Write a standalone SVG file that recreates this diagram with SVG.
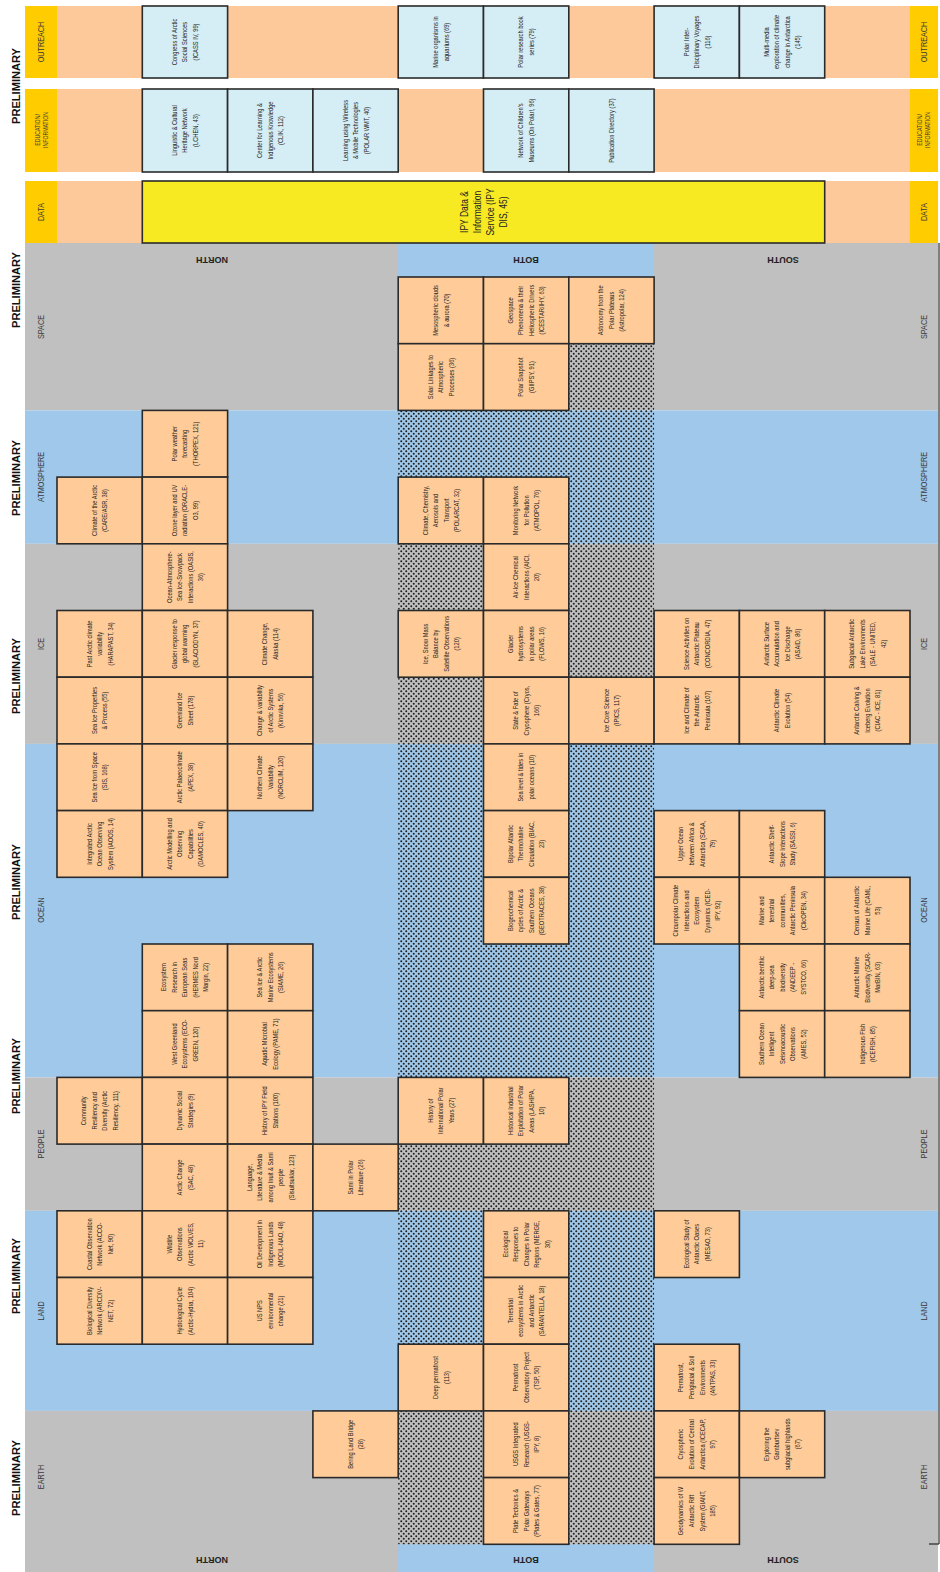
<svg xmlns="http://www.w3.org/2000/svg" width="940" height="1572" viewBox="0 0 940 1572">
<defs>
<style>
.g{fill:#c0c0c0}
.b{fill:#9fc8ea}
.pe{fill:#fdc99b}
.go{fill:#ffcc00}
.box rect{fill:#ffcc99;stroke:#2a2a2a;stroke-width:1.6}
.ibox rect{fill:#d5edf5;stroke:#2a2a2a;stroke-width:1.6}
.box text,.ibox text{font-family:"Liberation Sans",Arial,sans-serif;font-size:7px;fill:#222;text-anchor:middle}
.lbl{font-family:"Liberation Sans",Arial,sans-serif;font-size:8.5px;fill:#3a3a3a;text-anchor:middle}
.pre{font-family:"Liberation Sans",Arial,sans-serif;font-weight:bold;font-size:11px;fill:#111;text-anchor:middle}
.reg{font-family:"Liberation Sans",Arial,sans-serif;font-weight:bold;font-size:9px;fill:#222;text-anchor:middle}
</style>
<pattern id="hatch" width="5" height="5" patternUnits="userSpaceOnUse"><circle cx="1.25" cy="1.25" r="1" fill="#1e1e1e"/><circle cx="3.75" cy="3.75" r="1" fill="#1e1e1e"/></pattern>
</defs>
<rect width="940" height="1572" fill="#ffffff"/>
<g id="background">
<rect class="go" x="25" y="6" width="32" height="72"/><rect class="pe" x="57" y="6" width="853" height="72"/><rect class="go" x="910" y="6" width="28" height="72"/>
<rect class="go" x="25" y="89" width="32" height="83"/><rect class="pe" x="57" y="89" width="853" height="83"/><rect class="go" x="910" y="89" width="28" height="83"/>
<rect class="go" x="25" y="181" width="32" height="62"/><rect class="pe" x="57" y="181" width="853" height="62"/><rect class="go" x="910" y="181" width="28" height="62"/>
<rect class="g" x="25" y="243" width="913" height="167.4"/>
<rect class="b" x="25" y="410.4" width="913" height="133.4"/>
<rect class="g" x="25" y="543.8" width="913" height="200.1"/>
<rect class="b" x="25" y="743.9" width="913" height="333.5"/>
<rect class="g" x="25" y="1077.4" width="913" height="133.4"/>
<rect class="b" x="25" y="1210.8" width="913" height="200.1"/>
<rect class="g" x="25" y="1410.9" width="913" height="161.1"/>
<rect class="b" x="398.2" y="243" width="255.9" height="34"/>
<rect class="b" x="398.2" y="1544.3" width="255.9" height="27.7"/>
<rect fill="url(#hatch)" x="398.2" y="277" width="255.9" height="1267.3"/>
<line x1="939" y1="243" x2="939" y2="1544" stroke="#555" stroke-width="1.5"/>
<line x1="929" y1="1544" x2="939" y2="1544" stroke="#222" stroke-width="1.2"/>
</g>
<g id="labels">
<g class="pre">
<text transform="translate(20,86) rotate(-90)" textLength="76" lengthAdjust="spacingAndGlyphs">PRELIMINARY</text>
<text transform="translate(20,290) rotate(-90)" textLength="76" lengthAdjust="spacingAndGlyphs">PRELIMINARY</text>
<text transform="translate(20,478) rotate(-90)" textLength="76" lengthAdjust="spacingAndGlyphs">PRELIMINARY</text>
<text transform="translate(20,676) rotate(-90)" textLength="76" lengthAdjust="spacingAndGlyphs">PRELIMINARY</text>
<text transform="translate(20,882) rotate(-90)" textLength="76" lengthAdjust="spacingAndGlyphs">PRELIMINARY</text>
<text transform="translate(20,1076) rotate(-90)" textLength="76" lengthAdjust="spacingAndGlyphs">PRELIMINARY</text>
<text transform="translate(20,1276) rotate(-90)" textLength="76" lengthAdjust="spacingAndGlyphs">PRELIMINARY</text>
<text transform="translate(20,1478) rotate(-90)" textLength="76" lengthAdjust="spacingAndGlyphs">PRELIMINARY</text>
</g>
<g class="lbl">
<text transform="translate(44,42) rotate(-90) scale(0.85,1)">OUTREACH</text>
<text transform="translate(41,130) rotate(-90) scale(0.8,1)" font-size="6.5"><tspan x="0" y="-1">EDUCATION/</tspan><tspan x="0" y="7">INFORMATION</tspan></text>
<text transform="translate(44,212) rotate(-90) scale(0.85,1)">DATA</text>
<text transform="translate(44,327) rotate(-90) scale(0.85,1)">SPACE</text>
<text transform="translate(44,477) rotate(-90) scale(0.85,1)">ATMOSPHERE</text>
<text transform="translate(44,644) rotate(-90) scale(0.85,1)">ICE</text>
<text transform="translate(44,910) rotate(-90) scale(0.85,1)">OCEAN</text>
<text transform="translate(44,1144) rotate(-90) scale(0.85,1)">PEOPLE</text>
<text transform="translate(44,1311) rotate(-90) scale(0.85,1)">LAND</text>
<text transform="translate(44,1477) rotate(-90) scale(0.85,1)">EARTH</text>
<text transform="translate(927,42) rotate(-90) scale(0.85,1)">OUTREACH</text>
<text transform="translate(923,130) rotate(-90) scale(0.8,1)" font-size="6.5"><tspan x="0" y="-1">EDUCATION/</tspan><tspan x="0" y="7">INFORMATION</tspan></text>
<text transform="translate(927,212) rotate(-90) scale(0.85,1)">DATA</text>
<text transform="translate(927,327) rotate(-90) scale(0.85,1)">SPACE</text>
<text transform="translate(927,477) rotate(-90) scale(0.85,1)">ATMOSPHERE</text>
<text transform="translate(927,644) rotate(-90) scale(0.85,1)">ICE</text>
<text transform="translate(927,910) rotate(-90) scale(0.85,1)">OCEAN</text>
<text transform="translate(927,1144) rotate(-90) scale(0.85,1)">PEOPLE</text>
<text transform="translate(927,1311) rotate(-90) scale(0.85,1)">LAND</text>
<text transform="translate(927,1477) rotate(-90) scale(0.85,1)">EARTH</text>
</g>
<g class="reg">
<text transform="translate(212,257) rotate(180)">NORTH</text>
<text transform="translate(526,257) rotate(180)">BOTH</text>
<text transform="translate(783,257) rotate(180)">SOUTH</text>
<text transform="translate(212,1557) rotate(180)">NORTH</text>
<text transform="translate(526,1557) rotate(180)">BOTH</text>
<text transform="translate(783,1557) rotate(180)">SOUTH</text>
</g>
</g>
<g id="outreach">
<g id="icass" class="ibox"><rect x="142.3" y="6" width="85.3" height="72"/><text transform="translate(184.95,42) rotate(-90) scale(0.82,1)"><tspan x="0" y="-8">Congress of Arctic</tspan><tspan x="0" y="2.5">Social Sciences</tspan><tspan x="0" y="13">(ICASS IV, 99)</tspan></text></g>
<g id="aquaria" class="ibox"><rect x="398.2" y="6" width="85.3" height="72"/><text transform="translate(440.85,42) rotate(-90) scale(0.82,1)"><tspan x="0" y="-2.8">Marine organisms in</tspan><tspan x="0" y="7.8">aquariums (69)</tspan></text></g>
<g id="books" class="ibox"><rect x="483.5" y="6" width="85.3" height="72"/><text transform="translate(526.15,42) rotate(-90) scale(0.82,1)"><tspan x="0" y="-2.8">Polar research book</tspan><tspan x="0" y="7.8">series (79)</tspan></text></g>
<g id="voyages" class="ibox"><rect x="654.1" y="6" width="85.3" height="72"/><text transform="translate(696.75,42) rotate(-90) scale(0.82,1)"><tspan x="0" y="-8">Polar Inter-</tspan><tspan x="0" y="2.5">Disciplinary Voyages</tspan><tspan x="0" y="13">(116)</tspan></text></g>
<g id="multimedia" class="ibox"><rect x="739.4" y="6" width="85.3" height="72"/><text transform="translate(782.05,42) rotate(-90) scale(0.82,1)"><tspan x="0" y="-13.3">Multi-media</tspan><tspan x="0" y="-2.8">exploration of climate</tspan><tspan x="0" y="7.8">change in Antarctica</tspan><tspan x="0" y="18.3">(145)</tspan></text></g>
</g>
<g id="education">
<g id="lchen" class="ibox"><rect x="142.3" y="89" width="85.3" height="83"/><text transform="translate(184.95,130.5) rotate(-90) scale(0.82,1)"><tspan x="0" y="-8">Linguistic &amp; Cultural</tspan><tspan x="0" y="2.5">Heritage Network</tspan><tspan x="0" y="13">(LCHEN, 43)</tspan></text></g>
<g id="clik" class="ibox"><rect x="227.6" y="89" width="85.3" height="83"/><text transform="translate(270.25,130.5) rotate(-90) scale(0.82,1)"><tspan x="0" y="-8">Center for Learning &amp;</tspan><tspan x="0" y="2.5">Indigenous Knowledge</tspan><tspan x="0" y="13">(CLIK, 112)</tspan></text></g>
<g id="polarwmt" class="ibox"><rect x="312.9" y="89" width="85.3" height="83"/><text transform="translate(355.55,130.5) rotate(-90) scale(0.82,1)"><tspan x="0" y="-8">Learning using Wireless</tspan><tspan x="0" y="2.5">&amp; Mobile Technologies</tspan><tspan x="0" y="13">(POLAR WMT, 40)</tspan></text></g>
<g id="museums" class="ibox"><rect x="483.5" y="89" width="85.3" height="83"/><text transform="translate(526.15,130.5) rotate(-90) scale(0.82,1)"><tspan x="0" y="-2.8">Network of Children's</tspan><tspan x="0" y="7.8">Museums (On Polar!, 96)</tspan></text></g>
<g id="pubdir" class="ibox"><rect x="568.8" y="89" width="85.3" height="83"/><text transform="translate(611.45,130.5) rotate(-90) scale(0.82,1)"><tspan x="0" y="2.5">Publication Directory (37)</tspan></text></g>
</g>
<g id="data">
<g id="ipydis"><rect x="142.3" y="181" width="682.4" height="62" fill="#f7ea22" stroke="#2a2a2a" stroke-width="1.6"/><text transform="translate(484,212) rotate(-90) scale(0.85,1)" font-family="Liberation Sans, Arial, sans-serif" font-size="10" fill="#222" text-anchor="middle"><tspan x="0" y="-15.9">IPY Data &amp;</tspan><tspan x="0" y="-2.9">Information</tspan><tspan x="0" y="10.1">Service (IPY</tspan><tspan x="0" y="23.1">DIS, 45)</tspan></text></g>
</g>
<g id="space">
<g id="meso" class="box"><rect x="398.2" y="277" width="85.3" height="66.7"/><text transform="translate(440.85,310.35) rotate(-90) scale(0.82,1)"><tspan x="0" y="-2.8">Mesospheric clouds</tspan><tspan x="0" y="7.8">&amp; aurora (70)</tspan></text></g>
<g id="icestar" class="box"><rect x="483.5" y="277" width="85.3" height="66.7"/><text transform="translate(526.15,310.35) rotate(-90) scale(0.82,1)"><tspan x="0" y="-13.3">Geospace</tspan><tspan x="0" y="-2.8">Phenomena &amp; their</tspan><tspan x="0" y="7.8">Heliospheric Drivers</tspan><tspan x="0" y="18.3">(ICESTAR/IHY, 63)</tspan></text></g>
<g id="astro" class="box"><rect x="568.8" y="277" width="85.3" height="66.7"/><text transform="translate(611.45,310.35) rotate(-90) scale(0.82,1)"><tspan x="0" y="-8">Astronomy from the</tspan><tspan x="0" y="2.5">Polar Plateaus</tspan><tspan x="0" y="13">(Astropolar, 124)</tspan></text></g>
<g id="solar" class="box"><rect x="398.2" y="343.7" width="85.3" height="66.7"/><text transform="translate(440.85,377.05) rotate(-90) scale(0.82,1)"><tspan x="0" y="-8">Solar Linkages to</tspan><tspan x="0" y="2.5">Atmospheric</tspan><tspan x="0" y="13">Processes (36)</tspan></text></g>
<g id="giipsy" class="box"><rect x="483.5" y="343.7" width="85.3" height="66.7"/><text transform="translate(526.15,377.05) rotate(-90) scale(0.82,1)"><tspan x="0" y="-2.8">Polar Snapshot</tspan><tspan x="0" y="7.8">(GIIPSY, 91)</tspan></text></g>
</g>
<g id="atmosphere">
<g id="thorpex" class="box"><rect x="142.3" y="410.4" width="85.3" height="66.7"/><text transform="translate(184.95,443.75) rotate(-90) scale(0.82,1)"><tspan x="0" y="-8">Polar weather</tspan><tspan x="0" y="2.5">forecasting</tspan><tspan x="0" y="13">(THORPEX, 121)</tspan></text></g>
<g id="care" class="box"><rect x="57" y="477.1" width="85.3" height="66.7"/><text transform="translate(99.65,510.45) rotate(-90) scale(0.82,1)"><tspan x="0" y="-2.8">Climate of the Arctic</tspan><tspan x="0" y="7.8">(CARE/ASR, 38)</tspan></text></g>
<g id="oracle" class="box"><rect x="142.3" y="477.1" width="85.3" height="66.7"/><text transform="translate(184.95,510.45) rotate(-90) scale(0.82,1)"><tspan x="0" y="-8">Ozone layer and UV</tspan><tspan x="0" y="2.5">radiation (ORACLE-</tspan><tspan x="0" y="13">O3, 99)</tspan></text></g>
<g id="polarcat" class="box"><rect x="398.2" y="477.1" width="85.3" height="66.7"/><text transform="translate(440.85,510.45) rotate(-90) scale(0.82,1)"><tspan x="0" y="-13.3">Climate, Chemistry,</tspan><tspan x="0" y="-2.8">Aerosols and</tspan><tspan x="0" y="7.8">Transport</tspan><tspan x="0" y="18.3">(POLARCAT, 32)</tspan></text></g>
<g id="atmopol" class="box"><rect x="483.5" y="477.1" width="85.3" height="66.7"/><text transform="translate(526.15,510.45) rotate(-90) scale(0.82,1)"><tspan x="0" y="-8">Monitoring Network</tspan><tspan x="0" y="2.5">for Pollution</tspan><tspan x="0" y="13">(ATMOPOL, 76)</tspan></text></g>
</g>
<g id="ice">
<g id="oasis" class="box"><rect x="142.3" y="543.8" width="85.3" height="66.7"/><text transform="translate(184.95,577.15) rotate(-90) scale(0.82,1)"><tspan x="0" y="-13.3">Ocean-Atmosphere-</tspan><tspan x="0" y="-2.8">Sea Ice-Snowpack</tspan><tspan x="0" y="7.8">Interactions (OASIS,</tspan><tspan x="0" y="18.3">36)</tspan></text></g>
<g id="aici" class="box"><rect x="483.5" y="543.8" width="85.3" height="66.7"/><text transform="translate(526.15,577.15) rotate(-90) scale(0.82,1)"><tspan x="0" y="-8">Air-Ice Chemical</tspan><tspan x="0" y="2.5">Interactions (AICI,</tspan><tspan x="0" y="13">20)</tspan></text></g>
<g id="pastarctic" class="box"><rect x="57" y="610.5" width="85.3" height="66.7"/><text transform="translate(99.65,643.85) rotate(-90) scale(0.82,1)"><tspan x="0" y="-8">Past Arctic climate</tspan><tspan x="0" y="2.5">variability</tspan><tspan x="0" y="13">(HARAPAST, 34)</tspan></text></g>
<g id="glaciodyn" class="box"><rect x="142.3" y="610.5" width="85.3" height="66.7"/><text transform="translate(184.95,643.85) rotate(-90) scale(0.82,1)"><tspan x="0" y="-8">Glacier response to</tspan><tspan x="0" y="2.5">global warming</tspan><tspan x="0" y="13">(GLACIODYN, 37)</tspan></text></g>
<g id="alaska" class="box"><rect x="227.6" y="610.5" width="85.3" height="66.7"/><text transform="translate(270.25,643.85) rotate(-90) scale(0.82,1)"><tspan x="0" y="-2.8">Climate Change,</tspan><tspan x="0" y="7.8">Alaska (114)</tspan></text></g>
<g id="snowmass" class="box"><rect x="398.2" y="610.5" width="85.3" height="66.7"/><text transform="translate(440.85,643.85) rotate(-90) scale(0.82,1)"><tspan x="0" y="-13.3">Ice, Snow Mass</tspan><tspan x="0" y="-2.8">Balance by</tspan><tspan x="0" y="7.8">Satellite Observations</tspan><tspan x="0" y="18.3">(120)</tspan></text></g>
<g id="flows" class="box"><rect x="483.5" y="610.5" width="85.3" height="66.7"/><text transform="translate(526.15,643.85) rotate(-90) scale(0.82,1)"><tspan x="0" y="-13.3">Glacier</tspan><tspan x="0" y="-2.8">hydrosystems</tspan><tspan x="0" y="7.8">in polar areas</tspan><tspan x="0" y="18.3">(FLOWS, 16)</tspan></text></g>
<g id="concordia" class="box"><rect x="654.1" y="610.5" width="85.3" height="66.7"/><text transform="translate(696.75,643.85) rotate(-90) scale(0.82,1)"><tspan x="0" y="-8">Science Activities on</tspan><tspan x="0" y="2.5">Antarctic Plateau</tspan><tspan x="0" y="13">(CONCORDIA, 47)</tspan></text></g>
<g id="asaid" class="box"><rect x="739.4" y="610.5" width="85.3" height="66.7"/><text transform="translate(782.05,643.85) rotate(-90) scale(0.82,1)"><tspan x="0" y="-13.3">Antarctic Surface</tspan><tspan x="0" y="-2.8">Accumulation and</tspan><tspan x="0" y="7.8">Ice Discharge</tspan><tspan x="0" y="18.3">(ASAID, 86)</tspan></text></g>
<g id="sale" class="box"><rect x="824.7" y="610.5" width="85.3" height="66.7"/><text transform="translate(867.35,643.85) rotate(-90) scale(0.82,1)"><tspan x="0" y="-13.3">Subglacial Antarctic</tspan><tspan x="0" y="-2.8">Lake Environments</tspan><tspan x="0" y="7.8">(SALE - UNITED,</tspan><tspan x="0" y="18.3">42)</tspan></text></g>
<g id="seaiceprop" class="box"><rect x="57" y="677.2" width="85.3" height="66.7"/><text transform="translate(99.65,710.55) rotate(-90) scale(0.82,1)"><tspan x="0" y="-2.8">Sea Ice Properties</tspan><tspan x="0" y="7.8">&amp; Process (55)</tspan></text></g>
<g id="greenland" class="box"><rect x="142.3" y="677.2" width="85.3" height="66.7"/><text transform="translate(184.95,710.55) rotate(-90) scale(0.82,1)"><tspan x="0" y="-2.8">Greenland Ice</tspan><tspan x="0" y="7.8">Sheet (178)</tspan></text></g>
<g id="kinnvika" class="box"><rect x="227.6" y="677.2" width="85.3" height="66.7"/><text transform="translate(270.25,710.55) rotate(-90) scale(0.82,1)"><tspan x="0" y="-8">Change &amp; variability</tspan><tspan x="0" y="2.5">of Arctic Systems</tspan><tspan x="0" y="13">(Kinnvika, 56)</tspan></text></g>
<g id="cryos" class="box"><rect x="483.5" y="677.2" width="85.3" height="66.7"/><text transform="translate(526.15,710.55) rotate(-90) scale(0.82,1)"><tspan x="0" y="-8">State &amp; Fate of</tspan><tspan x="0" y="2.5">Cryosphere (Cryos,</tspan><tspan x="0" y="13">166)</tspan></text></g>
<g id="ipics" class="box"><rect x="568.8" y="677.2" width="85.3" height="66.7"/><text transform="translate(611.45,710.55) rotate(-90) scale(0.82,1)"><tspan x="0" y="-2.8">Ice Core Science</tspan><tspan x="0" y="7.8">(IPICS, 117)</tspan></text></g>
<g id="peninsula" class="box"><rect x="654.1" y="677.2" width="85.3" height="66.7"/><text transform="translate(696.75,710.55) rotate(-90) scale(0.82,1)"><tspan x="0" y="-8">Ice and Climate of</tspan><tspan x="0" y="2.5">the Antarctic</tspan><tspan x="0" y="13">Peninsula (107)</tspan></text></g>
<g id="ace" class="box"><rect x="739.4" y="677.2" width="85.3" height="66.7"/><text transform="translate(782.05,710.55) rotate(-90) scale(0.82,1)"><tspan x="0" y="-2.8">Antarctic Climate</tspan><tspan x="0" y="7.8">Evolution (54)</tspan></text></g>
<g id="ciac" class="box"><rect x="824.7" y="677.2" width="85.3" height="66.7"/><text transform="translate(867.35,710.55) rotate(-90) scale(0.82,1)"><tspan x="0" y="-8">Antarctic Calving &amp;</tspan><tspan x="0" y="2.5">Iceberg Evolution</tspan><tspan x="0" y="13">(CIAC - ICE, 81)</tspan></text></g>
</g>
<g id="ocean">
<g id="sis" class="box"><rect x="57" y="743.9" width="85.3" height="66.7"/><text transform="translate(99.65,777.25) rotate(-90) scale(0.82,1)"><tspan x="0" y="-2.8">Sea Ice from Space</tspan><tspan x="0" y="7.8">(SIS, 168)</tspan></text></g>
<g id="apex" class="box"><rect x="142.3" y="743.9" width="85.3" height="66.7"/><text transform="translate(184.95,777.25) rotate(-90) scale(0.82,1)"><tspan x="0" y="-2.8">Arctic Palaeoclimate</tspan><tspan x="0" y="7.8">(APEX, 38)</tspan></text></g>
<g id="norclim" class="box"><rect x="227.6" y="743.9" width="85.3" height="66.7"/><text transform="translate(270.25,777.25) rotate(-90) scale(0.82,1)"><tspan x="0" y="-8">Northern Climate</tspan><tspan x="0" y="2.5">Variability</tspan><tspan x="0" y="13">(NORCLIM, 120)</tspan></text></g>
<g id="sealevel" class="box"><rect x="483.5" y="743.9" width="85.3" height="66.7"/><text transform="translate(526.15,777.25) rotate(-90) scale(0.82,1)"><tspan x="0" y="-2.8">Sea level &amp; tides in</tspan><tspan x="0" y="7.8">polar oceans (10)</tspan></text></g>
<g id="iaoos" class="box"><rect x="57" y="810.6" width="85.3" height="66.7"/><text transform="translate(99.65,843.95) rotate(-90) scale(0.82,1)"><tspan x="0" y="-8">Integrated Arctic</tspan><tspan x="0" y="2.5">Ocean Observing</tspan><tspan x="0" y="13">System (iAOOS, 14)</tspan></text></g>
<g id="damocles" class="box"><rect x="142.3" y="810.6" width="85.3" height="66.7"/><text transform="translate(184.95,843.95) rotate(-90) scale(0.82,1)"><tspan x="0" y="-13.3">Arctic Modelling and</tspan><tspan x="0" y="-2.8">Observing</tspan><tspan x="0" y="7.8">Capabilities</tspan><tspan x="0" y="18.3">(DAMOCLES, 40)</tspan></text></g>
<g id="biac" class="box"><rect x="483.5" y="810.6" width="85.3" height="66.7"/><text transform="translate(526.15,843.95) rotate(-90) scale(0.82,1)"><tspan x="0" y="-13.3">Bipolar Atlantic</tspan><tspan x="0" y="-2.8">Thermohaline</tspan><tspan x="0" y="7.8">Circulation (BIAC,</tspan><tspan x="0" y="18.3">23)</tspan></text></g>
<g id="scaa" class="box"><rect x="654.1" y="810.6" width="85.3" height="66.7"/><text transform="translate(696.75,843.95) rotate(-90) scale(0.82,1)"><tspan x="0" y="-13.3">Upper Ocean</tspan><tspan x="0" y="-2.8">between Africa &amp;</tspan><tspan x="0" y="7.8">Antarctica (SCAA,</tspan><tspan x="0" y="18.3">79)</tspan></text></g>
<g id="sassi" class="box"><rect x="739.4" y="810.6" width="85.3" height="66.7"/><text transform="translate(782.05,843.95) rotate(-90) scale(0.82,1)"><tspan x="0" y="-8">Antarctic Shelf-</tspan><tspan x="0" y="2.5">Slope Interactions</tspan><tspan x="0" y="13">Study (SASSI, 6)</tspan></text></g>
<g id="geotraces" class="box"><rect x="483.5" y="877.3" width="85.3" height="66.7"/><text transform="translate(526.15,910.65) rotate(-90) scale(0.82,1)"><tspan x="0" y="-13.3">Biogeochemical</tspan><tspan x="0" y="-2.8">cycles of Arctic &amp;</tspan><tspan x="0" y="7.8">Southern Oceans</tspan><tspan x="0" y="18.3">(GEOTRACES, 38)</tspan></text></g>
<g id="iced" class="box"><rect x="654.1" y="877.3" width="85.3" height="66.7"/><text transform="translate(696.75,910.65) rotate(-90) scale(0.82,1)"><tspan x="0" y="-18.5">Circumpolar Climate</tspan><tspan x="0" y="-8">Interactions and</tspan><tspan x="0" y="2.5">Ecosystem</tspan><tspan x="0" y="13">Dynamics (ICED-</tspan><tspan x="0" y="23.5">IPY, 92)</tspan></text></g>
<g id="clicopen" class="box"><rect x="739.4" y="877.3" width="85.3" height="66.7"/><text transform="translate(782.05,910.65) rotate(-90) scale(0.82,1)"><tspan x="0" y="-18.5">Marine and</tspan><tspan x="0" y="-8">terrestrial</tspan><tspan x="0" y="2.5">communities,</tspan><tspan x="0" y="13">Antarctic Peninsula</tspan><tspan x="0" y="23.5">(ClicOPEN, 34)</tspan></text></g>
<g id="caml" class="box"><rect x="824.7" y="877.3" width="85.3" height="66.7"/><text transform="translate(867.35,910.65) rotate(-90) scale(0.82,1)"><tspan x="0" y="-8">Census of Antarctic</tspan><tspan x="0" y="2.5">Marine Life (CAML,</tspan><tspan x="0" y="13">53)</tspan></text></g>
<g id="hermes" class="box"><rect x="142.3" y="944" width="85.3" height="66.7"/><text transform="translate(184.95,977.35) rotate(-90) scale(0.82,1)"><tspan x="0" y="-18.5">Ecosystem</tspan><tspan x="0" y="-8">Research in</tspan><tspan x="0" y="2.5">European Seas</tspan><tspan x="0" y="13">(HERMES Nord</tspan><tspan x="0" y="23.5">Margin, 22)</tspan></text></g>
<g id="seaiceeco" class="box"><rect x="227.6" y="944" width="85.3" height="66.7"/><text transform="translate(270.25,977.35) rotate(-90) scale(0.82,1)"><tspan x="0" y="-8">Sea Ice &amp; Arctic</tspan><tspan x="0" y="2.5">Marine Ecosystems</tspan><tspan x="0" y="13">(SIAME, 26)</tspan></text></g>
<g id="andeep" class="box"><rect x="739.4" y="944" width="85.3" height="66.7"/><text transform="translate(782.05,977.35) rotate(-90) scale(0.82,1)"><tspan x="0" y="-18.5">Antarctic benthic</tspan><tspan x="0" y="-8">deep-sea</tspan><tspan x="0" y="2.5">biodiversity</tspan><tspan x="0" y="13">(ANDEEP -</tspan><tspan x="0" y="23.5">SYSTCO, 66)</tspan></text></g>
<g id="marbin" class="box"><rect x="824.7" y="944" width="85.3" height="66.7"/><text transform="translate(867.35,977.35) rotate(-90) scale(0.82,1)"><tspan x="0" y="-8">Antarctic Marine</tspan><tspan x="0" y="2.5">Biodiversity (SCAR-</tspan><tspan x="0" y="13">MarBIN, 63)</tspan></text></g>
<g id="ecogreen" class="box"><rect x="142.3" y="1010.7" width="85.3" height="66.7"/><text transform="translate(184.95,1044.05) rotate(-90) scale(0.82,1)"><tspan x="0" y="-8">West Greenland</tspan><tspan x="0" y="2.5">Ecosystems (ECO-</tspan><tspan x="0" y="13">GREEN, 120)</tspan></text></g>
<g id="pame" class="box"><rect x="227.6" y="1010.7" width="85.3" height="66.7"/><text transform="translate(270.25,1044.05) rotate(-90) scale(0.82,1)"><tspan x="0" y="-2.8">Aquatic Microbial</tspan><tspan x="0" y="7.8">Ecology (PAME, 71)</tspan></text></g>
<g id="ames" class="box"><rect x="739.4" y="1010.7" width="85.3" height="66.7"/><text transform="translate(782.05,1044.05) rotate(-90) scale(0.82,1)"><tspan x="0" y="-18.5">Southern Ocean</tspan><tspan x="0" y="-8">Intelligent</tspan><tspan x="0" y="2.5">Seismoacoustic</tspan><tspan x="0" y="13">Observations</tspan><tspan x="0" y="23.5">(AMES, 52)</tspan></text></g>
<g id="icefish" class="box"><rect x="824.7" y="1010.7" width="85.3" height="66.7"/><text transform="translate(867.35,1044.05) rotate(-90) scale(0.82,1)"><tspan x="0" y="-2.8">Indigenous Fish</tspan><tspan x="0" y="7.8">(ICEFISH, 85)</tspan></text></g>
</g>
<g id="people">
<g id="resiliency" class="box"><rect x="57" y="1077.4" width="85.3" height="66.7"/><text transform="translate(99.65,1110.75) rotate(-90) scale(0.82,1)"><tspan x="0" y="-13.3">Community</tspan><tspan x="0" y="-2.8">Resiliency and</tspan><tspan x="0" y="7.8">Diversity (Arctic</tspan><tspan x="0" y="18.3">Resiliency, 111)</tspan></text></g>
<g id="social" class="box"><rect x="142.3" y="1077.4" width="85.3" height="66.7"/><text transform="translate(184.95,1110.75) rotate(-90) scale(0.82,1)"><tspan x="0" y="-2.8">Dynamic Social</tspan><tspan x="0" y="7.8">Strategies (9)</tspan></text></g>
<g id="stations" class="box"><rect x="227.6" y="1077.4" width="85.3" height="66.7"/><text transform="translate(270.25,1110.75) rotate(-90) scale(0.82,1)"><tspan x="0" y="-2.8">History of IPY Field</tspan><tspan x="0" y="7.8">Stations (100)</tspan></text></g>
<g id="history" class="box"><rect x="398.2" y="1077.4" width="85.3" height="66.7"/><text transform="translate(440.85,1110.75) rotate(-90) scale(0.82,1)"><tspan x="0" y="-8">History of</tspan><tspan x="0" y="2.5">International Polar</tspan><tspan x="0" y="13">Years (27)</tspan></text></g>
<g id="lashipa" class="box"><rect x="483.5" y="1077.4" width="85.3" height="66.7"/><text transform="translate(526.15,1110.75) rotate(-90) scale(0.82,1)"><tspan x="0" y="-13.3">Historical Industrial</tspan><tspan x="0" y="-2.8">Exploitation of Polar</tspan><tspan x="0" y="7.8">Areas (LASHIPA,</tspan><tspan x="0" y="18.3">10)</tspan></text></g>
<g id="sac" class="box"><rect x="142.3" y="1144.1" width="85.3" height="66.7"/><text transform="translate(184.95,1177.45) rotate(-90) scale(0.82,1)"><tspan x="0" y="-2.8">Arctic Change</tspan><tspan x="0" y="7.8">(SAC, 48)</tspan></text></g>
<g id="language" class="box"><rect x="227.6" y="1144.1" width="85.3" height="66.7"/><text transform="translate(270.25,1177.45) rotate(-90) scale(0.82,1)"><tspan x="0" y="-18.5">Language,</tspan><tspan x="0" y="-8">Literature &amp; Media</tspan><tspan x="0" y="2.5">among Inuit &amp; Sami</tspan><tspan x="0" y="13">people</tspan><tspan x="0" y="23.5">(Sisuitsuklar, 123)</tspan></text></g>
<g id="sami" class="box"><rect x="312.9" y="1144.1" width="85.3" height="66.7"/><text transform="translate(355.55,1177.45) rotate(-90) scale(0.82,1)"><tspan x="0" y="-2.8">Sami in Polar</tspan><tspan x="0" y="7.8">Literature (26)</tspan></text></g>
</g>
<g id="land">
<g id="acconet" class="box"><rect x="57" y="1210.8" width="85.3" height="66.7"/><text transform="translate(99.65,1244.15) rotate(-90) scale(0.82,1)"><tspan x="0" y="-8">Coastal Observation</tspan><tspan x="0" y="2.5">Network (ACCO-</tspan><tspan x="0" y="13">Net, 90)</tspan></text></g>
<g id="wolves" class="box"><rect x="142.3" y="1210.8" width="85.3" height="66.7"/><text transform="translate(184.95,1244.15) rotate(-90) scale(0.82,1)"><tspan x="0" y="-13.3">Wildlife</tspan><tspan x="0" y="-2.8">Observations</tspan><tspan x="0" y="7.8">(Arctic WOLVES,</tspan><tspan x="0" y="18.3">11)</tspan></text></g>
<g id="oil" class="box"><rect x="227.6" y="1210.8" width="85.3" height="66.7"/><text transform="translate(270.25,1244.15) rotate(-90) scale(0.82,1)"><tspan x="0" y="-8">Oil Development in</tspan><tspan x="0" y="2.5">Indigenous Lands</tspan><tspan x="0" y="13">(MODIL-NAO, 48)</tspan></text></g>
<g id="merge" class="box"><rect x="483.5" y="1210.8" width="85.3" height="66.7"/><text transform="translate(526.15,1244.15) rotate(-90) scale(0.82,1)"><tspan x="0" y="-18.5">Ecological</tspan><tspan x="0" y="-8">Responses to</tspan><tspan x="0" y="2.5">Changes in Polar</tspan><tspan x="0" y="13">Regions (MERGE,</tspan><tspan x="0" y="23.5">30)</tspan></text></g>
<g id="mesao" class="box"><rect x="654.1" y="1210.8" width="85.3" height="66.7"/><text transform="translate(696.75,1244.15) rotate(-90) scale(0.82,1)"><tspan x="0" y="-8">Ecological Study of</tspan><tspan x="0" y="2.5">Antarctic Oases</tspan><tspan x="0" y="13">(MESAO, 73)</tspan></text></g>
<g id="arcdiv" class="box"><rect x="57" y="1277.5" width="85.3" height="66.7"/><text transform="translate(99.65,1310.85) rotate(-90) scale(0.82,1)"><tspan x="0" y="-8">Biological Diversity</tspan><tspan x="0" y="2.5">Network (ARCDIV-</tspan><tspan x="0" y="13">NET, 72)</tspan></text></g>
<g id="hydra" class="box"><rect x="142.3" y="1277.5" width="85.3" height="66.7"/><text transform="translate(184.95,1310.85) rotate(-90) scale(0.82,1)"><tspan x="0" y="-2.8">Hydrological Cycle</tspan><tspan x="0" y="7.8">(Arctic-Hydra, 104)</tspan></text></g>
<g id="usnps" class="box"><rect x="227.6" y="1277.5" width="85.3" height="66.7"/><text transform="translate(270.25,1310.85) rotate(-90) scale(0.82,1)"><tspan x="0" y="-8">US NPS</tspan><tspan x="0" y="2.5">environmental</tspan><tspan x="0" y="13">change (21)</tspan></text></g>
<g id="sarantella" class="box"><rect x="483.5" y="1277.5" width="85.3" height="66.7"/><text transform="translate(526.15,1310.85) rotate(-90) scale(0.82,1)"><tspan x="0" y="-13.3">Terrestrial</tspan><tspan x="0" y="-2.8">ecosystems in Arctic</tspan><tspan x="0" y="7.8">and Antarctic</tspan><tspan x="0" y="18.3">(SARANTELLA, 18)</tspan></text></g>
<g id="deeppf" class="box"><rect x="398.2" y="1344.2" width="85.3" height="66.7"/><text transform="translate(440.85,1377.55) rotate(-90) scale(0.82,1)"><tspan x="0" y="-2.8">Deep permafrost</tspan><tspan x="0" y="7.8">(113)</tspan></text></g>
<g id="tsp" class="box"><rect x="483.5" y="1344.2" width="85.3" height="66.7"/><text transform="translate(526.15,1377.55) rotate(-90) scale(0.82,1)"><tspan x="0" y="-8">Permafrost</tspan><tspan x="0" y="2.5">Observatory Project</tspan><tspan x="0" y="13">(TSP, 50)</tspan></text></g>
<g id="antpas" class="box"><rect x="654.1" y="1344.2" width="85.3" height="66.7"/><text transform="translate(696.75,1377.55) rotate(-90) scale(0.82,1)"><tspan x="0" y="-13.3">Permafrost,</tspan><tspan x="0" y="-2.8">Periglacial &amp; Soil</tspan><tspan x="0" y="7.8">Environments</tspan><tspan x="0" y="18.3">(ANTPAS, 33)</tspan></text></g>
</g>
<g id="earth">
<g id="bering" class="box"><rect x="312.9" y="1410.9" width="85.3" height="66.7"/><text transform="translate(355.55,1444.25) rotate(-90) scale(0.82,1)"><tspan x="0" y="-2.8">Bering Land Bridge</tspan><tspan x="0" y="7.8">(28)</tspan></text></g>
<g id="usgs" class="box"><rect x="483.5" y="1410.9" width="85.3" height="66.7"/><text transform="translate(526.15,1444.25) rotate(-90) scale(0.82,1)"><tspan x="0" y="-8">USGS Integrated</tspan><tspan x="0" y="2.5">Research (USGS-</tspan><tspan x="0" y="13">IPY, 8)</tspan></text></g>
<g id="icecap" class="box"><rect x="654.1" y="1410.9" width="85.3" height="66.7"/><text transform="translate(696.75,1444.25) rotate(-90) scale(0.82,1)"><tspan x="0" y="-13.3">Cryospheric</tspan><tspan x="0" y="-2.8">Evolution of Central</tspan><tspan x="0" y="7.8">Antarctica (ICECAP,</tspan><tspan x="0" y="18.3">97)</tspan></text></g>
<g id="agap" class="box"><rect x="739.4" y="1410.9" width="85.3" height="66.7"/><text transform="translate(782.05,1444.25) rotate(-90) scale(0.82,1)"><tspan x="0" y="-13.3">Exploring the</tspan><tspan x="0" y="-2.8">Gamburtsev</tspan><tspan x="0" y="7.8">subglacial highlands</tspan><tspan x="0" y="18.3">(67)</tspan></text></g>
<g id="plates" class="box"><rect x="483.5" y="1477.6" width="85.3" height="66.7"/><text transform="translate(526.15,1510.95) rotate(-90) scale(0.82,1)"><tspan x="0" y="-8">Plate Tectonics &amp;</tspan><tspan x="0" y="2.5">Polar Gateways</tspan><tspan x="0" y="13">(Plates &amp; Gates, 77)</tspan></text></g>
<g id="giant" class="box"><rect x="654.1" y="1477.6" width="85.3" height="66.7"/><text transform="translate(696.75,1510.95) rotate(-90) scale(0.82,1)"><tspan x="0" y="-13.3">Geodynamics of W</tspan><tspan x="0" y="-2.8">Antarctic Rift</tspan><tspan x="0" y="7.8">System (GIANT,</tspan><tspan x="0" y="18.3">185)</tspan></text></g>
</g>
<g id="connectors"/>
</svg>
